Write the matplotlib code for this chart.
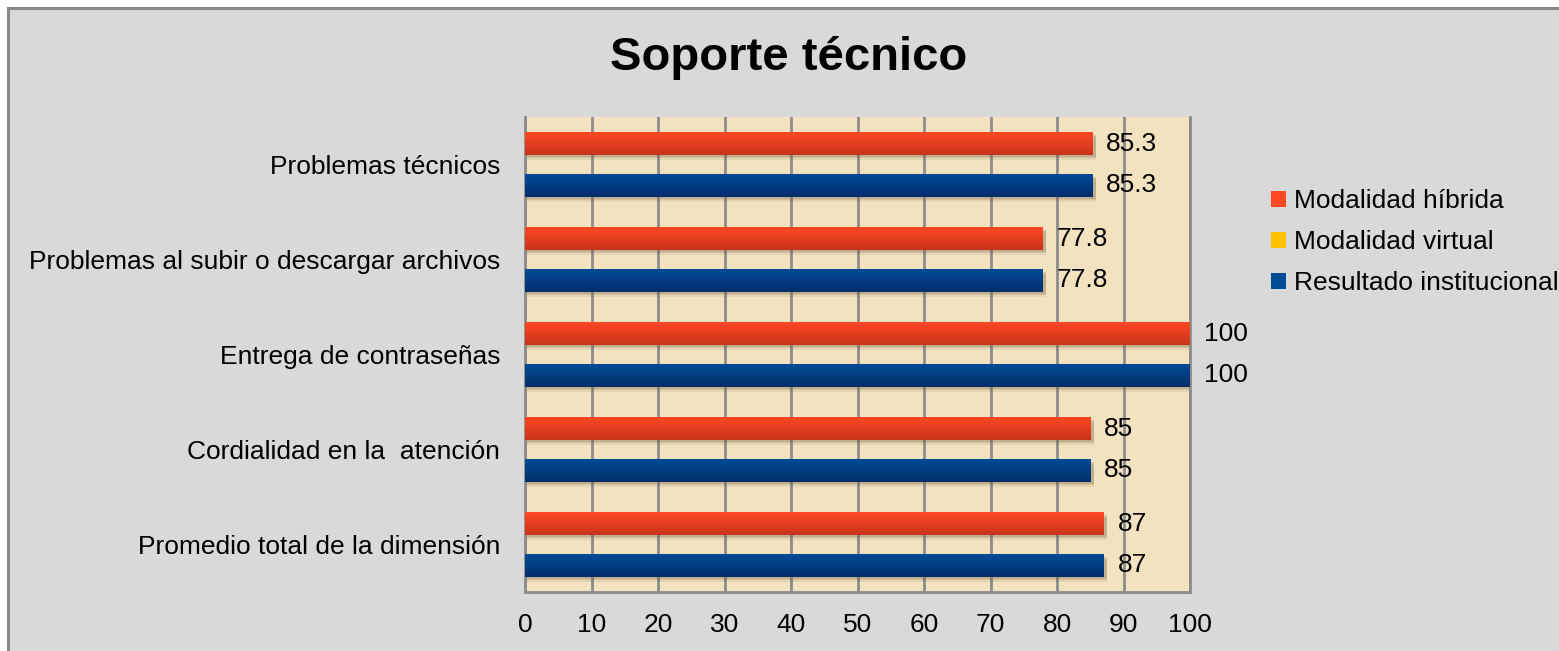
import numpy as np
import matplotlib.pyplot as plt
from matplotlib.patches import Rectangle, Patch
from matplotlib.colors import LinearSegmentedColormap

plt.rcParams['font.family'] = ['Liberation Sans', 'DejaVu Sans']

# data (top to bottom as shown)
categories = ['Problemas técnicos',
              'Problemas al subir o descargar archivos',
              'Entrega de contraseñas',
              'Cordialidad en la  atención',
              'Promedio total de la dimensión']
hibrida = [85.3, 77.8, 100, 85, 87]
virtual = [np.nan, np.nan, np.nan, np.nan, np.nan]
institucional = [85.3, 77.8, 100, 85, 87]
series_names = ['Modalidad híbrida', 'Modalidad virtual', 'Resultado institucional']
x_ticks = [0, 10, 20, 30, 40, 50, 60, 70, 80, 90, 100]

# colours (top, bottom of gradient)
red = ('#ff4824', '#c9331b')
yellow = ('#ffc000', '#d98c00')
blue = ('#004b96', '#002e6a')
beige = '#f2e2c0'
panel = '#d9d9d9'
grid_c = '#8c8c8c'
fs = 19

fig = plt.figure(figsize=(15.59, 6.51), dpi=100)
fig.patch.set_facecolor('white')
fig.patches.append(Rectangle((8 / 1559, -0.05), 1.1, (651 - 8) / 651 + 0.05,
                             transform=fig.transFigure, facecolor=panel,
                             edgecolor='#878787', linewidth=2.2, zorder=-1))

ax = fig.add_axes([525 / 1559, 59 / 651, 665 / 1559, 475 / 651])
ax.set_zorder(1)
ax.set_facecolor(beige)

y = np.arange(len(categories))
off = 0.221
h = 0.232


def grad_bar(yc, w, cols):
    if np.isnan(w):
        return
    # soft shadow
    for k, a in [(0.05, 0.10), (0.03, 0.14), (0.015, 0.18)]:
        ax.add_patch(Rectangle((0, yc - h / 2 + k + 0.01), w + 0.5, h,
                               facecolor='#6b5a3a', alpha=a, lw=0, zorder=2))
    bar = ax.barh(yc, w, height=h, color=cols[0], zorder=3)[0]
    cm = LinearSegmentedColormap.from_list('g', [cols[0], cols[1]])
    im = ax.imshow(np.linspace(0, 1, 64).reshape(-1, 1), cmap=cm, aspect='auto',
                   extent=[0, w, yc + h / 2, yc - h / 2], zorder=4)
    im.set_clip_path(bar)
    ax.text(w + 2.1, yc, f'{w:g}', va='center', ha='left', fontsize=fs, zorder=5)


for i in range(len(categories)):
    grad_bar(y[i] - off, hibrida[i], red)
    grad_bar(y[i], virtual[i], yellow)
    grad_bar(y[i] + off, institucional[i], blue)

ax.set_xlim(0, 100)
ax.set_ylim(len(categories) - 0.5, -0.5)
ax.set_xticks(x_ticks)
ax.set_yticks(y)
ax.set_yticklabels(categories)
ax.tick_params(axis='both', length=0, labelsize=fs)
ax.tick_params(axis='y', pad=18)
ax.tick_params(axis='x', pad=15)
ax.set_axisbelow(True)
ax.grid(axis='x', color=grid_c, linewidth=2, zorder=1)
for s in ['left', 'bottom', 'right']:
    ax.spines[s].set_color(grid_c)
    ax.spines[s].set_linewidth(2)
ax.spines['top'].set_visible(False)

fig.text(789 / 1559, 1 - 58 / 651, 'Soporte técnico', ha='center', va='center',
         fontsize=34, fontweight='bold')

handles = [Patch(facecolor=c[0], edgecolor='none') for c in (red, yellow, blue)]
fig.legend(handles, series_names, loc='upper left',
           bbox_to_anchor=(1258 / 1559, 1 - 176 / 651), frameon=False,
           fontsize=fs, handlelength=0.55, handleheight=0.55,
           handletextpad=0.3, labelspacing=0.64, borderpad=0)

fig.savefig('out.png', dpi=100)
